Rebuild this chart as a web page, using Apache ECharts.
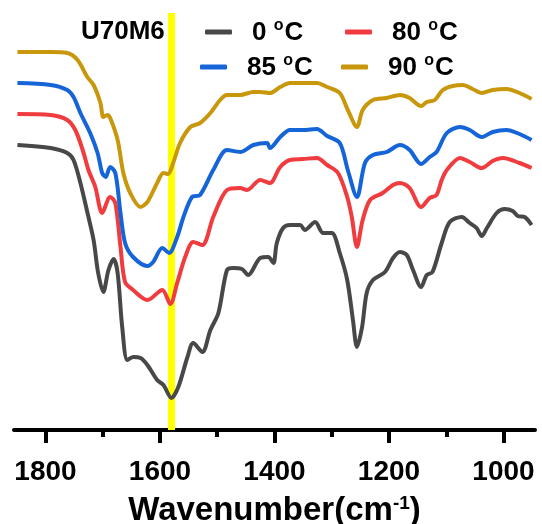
<!DOCTYPE html>
<html>
<head>
<meta charset="utf-8">
<script src="https://cdn.jsdelivr.net/npm/echarts@6/dist/echarts.min.js"></script>
<style>
  html, body { margin: 0; padding: 0; background: #fff; }
  #chart { width: 542px; height: 524px; }
</style>
</head>
<body>
<div id="chart"></div>
<script>
// 读图得到的数据: [波数 cm-1, 相对透过率(任意单位)]
const seriesNames = ['0 °C', '80 °C', '85 °C', '90 °C']
const seriesColors = ['#484848', '#f03b3f', '#1565d9', '#c9970c']
const majorTicks = [1000, 1200, 1400, 1600, 1800]
const minorTicks = [1100, 1300, 1500, 1700]
const markerWn = 1580

const data0 = [
  [1849, 285], [1791, 282], [1762, 277], [1751, 270], [1739, 247], [1727, 218], [1716, 190],
  [1708, 157], [1699, 138], [1690, 160], [1681, 171], [1674, 157], [1666, 103], [1657, 70],
  [1647, 73], [1634, 72], [1622, 65], [1605, 50], [1594, 45], [1580, 32], [1568, 43],
  [1552, 73], [1542, 87], [1526, 78], [1512, 100], [1498, 117], [1483, 160], [1472, 162],
  [1457, 161], [1446, 155], [1425, 172], [1411, 173], [1402, 167], [1396, 187], [1385, 202],
  [1373, 205], [1355, 205], [1347, 200], [1329, 208], [1315, 197], [1300, 197], [1286, 177],
  [1273, 150], [1263, 110], [1256, 83], [1247, 103], [1239, 137], [1228, 150], [1207, 158],
  [1193, 172], [1181, 178], [1169, 175], [1158, 160], [1144, 143], [1134, 155], [1124, 158],
  [1108, 187], [1094, 208], [1073, 213], [1059, 207], [1047, 202], [1038, 194], [1029, 202],
  [1012, 217], [998, 221], [984, 219], [975, 214], [963, 213], [951, 205]
]
const data80 = [
  [1849, 316], [1791, 315], [1762, 310], [1748, 300], [1735, 280], [1725, 260], [1713, 243],
  [1701, 217], [1687, 233], [1678, 227], [1669, 183], [1661, 148], [1647, 140], [1622, 130],
  [1596, 140], [1582, 126], [1570, 147], [1556, 173], [1542, 188], [1526, 185], [1507, 213],
  [1483, 240], [1460, 242], [1448, 240], [1425, 250], [1408, 247], [1390, 263], [1373, 270],
  [1350, 271], [1326, 272], [1308, 265], [1289, 257], [1273, 233], [1265, 213], [1256, 183],
  [1246, 210], [1233, 230], [1211, 237], [1193, 245], [1181, 247], [1164, 242], [1144, 223],
  [1129, 232], [1117, 235], [1108, 250], [1099, 260], [1076, 272], [1059, 268], [1038, 262],
  [1019, 269], [1001, 272], [972, 267], [951, 262]
]
const data85 = [
  [1849, 347], [1791, 345], [1762, 340], [1751, 333], [1739, 317], [1722, 297], [1709, 277],
  [1701, 257], [1695, 253], [1687, 263], [1678, 257], [1669, 217], [1661, 187], [1647, 173],
  [1622, 164], [1612, 168], [1596, 182], [1584, 177], [1570, 193], [1559, 213], [1544, 233],
  [1530, 235], [1507, 260], [1483, 280], [1460, 278], [1437, 285], [1413, 287], [1408, 282],
  [1390, 293], [1373, 300], [1350, 300], [1326, 301], [1308, 294], [1286, 287], [1272, 260],
  [1256, 233], [1242, 267], [1228, 275], [1204, 278], [1181, 285], [1164, 280], [1144, 266],
  [1129, 273], [1117, 278], [1099, 297], [1076, 303], [1059, 300], [1038, 293], [1019, 298],
  [995, 300], [972, 296], [951, 290]
]
const data90 = [
  [1849, 378], [1791, 378], [1762, 377], [1744, 370], [1727, 353], [1716, 345], [1704, 327],
  [1699, 313], [1692, 315], [1687, 312], [1674, 290], [1664, 257], [1652, 237], [1634, 223],
  [1622, 228], [1605, 247], [1594, 257], [1586, 256], [1577, 267], [1565, 287], [1547, 303],
  [1530, 307], [1512, 317], [1495, 330], [1483, 335], [1460, 335], [1437, 338], [1425, 338],
  [1408, 337], [1390, 343], [1373, 347], [1350, 347], [1326, 347], [1308, 343], [1286, 337],
  [1272, 320], [1256, 303], [1246, 320], [1228, 330], [1204, 332], [1181, 335], [1164, 332],
  [1144, 324], [1134, 328], [1120, 330], [1106, 340], [1089, 344], [1071, 345], [1054, 341],
  [1038, 337], [1019, 340], [995, 341], [972, 337], [951, 331]
]
const allData = [data0, data80, data85, data90]

const font = 'Liberation Sans, Arial, sans-serif'
// 图例位置(每个图例单独放)
const legendPos = [
  { left: 200, top: 13 },
  { left: 340, top: 13 },
  { left: 195, top: 48 },
  { left: 336, top: 48 }
]

const charts = echarts.init(document.getElementById('chart'))

const series = allData.map((d, i) => ({
  name: seriesNames[i],
  type: 'line',
  data: d,
  smooth: 0.3,
  showSymbol: false,
  z: 3,
  lineStyle: { width: 4, color: seriesColors[i] },
  itemStyle: { color: seriesColors[i] }
}))
// 黄色标记线
series[0].markLine = {
  silent: true,
  symbol: 'none',
  label: { show: false },
  z: 1,
  lineStyle: { color: '#ffff00', width: 7, type: 'solid' },
  data: [{ xAxis: markerWn }]
}

charts.setOption({
  backgroundColor: '#fff',
  animation: false,
  title: {
    text: 'U70M6',
    left: 76,
    top: 14,
    textStyle: { fontFamily: font, fontSize: 26, fontWeight: 'bold', color: '#000' }
  },
  legend: seriesNames.map((n, i) => ({
    data: [n],
    left: legendPos[i].left,
    top: legendPos[i].top,
    icon: 'roundRect',
    itemWidth: 27,
    itemHeight: 5,
    selectedMode: false,
    formatter: function(name) {
      return '{t|' + name.replace(' °C', ' ') + '}{s|o}{t|C}'
    },
    textStyle: {
      padding: [0, 0, 0, 15],
      rich: {
        t: { fontFamily: font, fontSize: 26, fontWeight: 'bold', color: '#000', verticalAlign: 'bottom' },
        s: { fontFamily: font, fontSize: 16, fontWeight: 'bold', color: '#000', verticalAlign: 'bottom', padding: [0, 1, 12, 0] }
      }
    }
  })),
  grid: { left: 14, right: 7, top: 13, bottom: 94, outerBoundsMode: 'none' },
  xAxis: [
    {
      type: 'value',
      inverse: true,
      min: 945,
      max: 1855,
      name: '{a|Wavenumber(cm}{s|-1}{a|)}',
      nameLocation: 'middle',
      nameGap: 64,
      nameTextStyle: {
        rich: {
          a: { fontFamily: font, fontSize: 33, fontWeight: 'bold', color: '#000', verticalAlign: 'bottom' },
          s: { fontFamily: font, fontSize: 19, fontWeight: 'bold', color: '#000', verticalAlign: 'bottom', padding: [0, 0, 14, 0] }
        }
      },
      splitLine: { show: false },
      axisLine: { lineStyle: { color: '#000', width: 4 } },
      axisTick: { customValues: majorTicks, length: 13, lineStyle: { color: '#000', width: 4 } },
      axisLabel: {
        customValues: majorTicks,
        margin: 28,
        fontFamily: font,
        fontSize: 28,
        fontWeight: 'bold',
        color: '#000',
        formatter: function(v) { return String(v) }
      }
    },
    {
      // 次刻度
      type: 'value',
      inverse: true,
      position: 'bottom',
      min: 945,
      max: 1855,
      splitLine: { show: false },
      axisLine: { show: false },
      axisTick: { customValues: minorTicks, length: 7, lineStyle: { color: '#000', width: 4 } },
      axisLabel: { show: false }
    }
  ],
  yAxis: {
    type: 'value',
    min: 0,
    max: 417,
    show: false
  },
  series: series
})
</script>
</body>
</html>
